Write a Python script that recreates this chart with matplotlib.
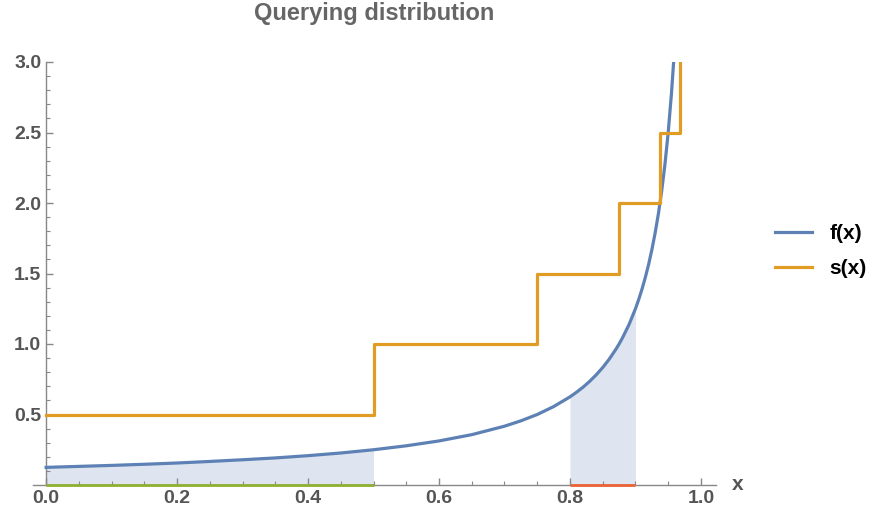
import matplotlib
matplotlib.use("Agg")
import matplotlib.pyplot as plt
import numpy as np
from matplotlib.ticker import MultipleLocator

# f(x)
f_x = [0.0, 0.05, 0.1, 0.15, 0.2, 0.25, 0.3, 0.35, 0.4, 0.45, 0.5, 0.55, 0.6, 0.65,
       0.7, 0.725, 0.75, 0.775, 0.8, 0.81, 0.82, 0.83, 0.84, 0.85, 0.86, 0.87,
       0.875, 0.88, 0.89, 0.9, 0.905, 0.91, 0.915, 0.92, 0.925, 0.93, 0.935,
       0.94, 0.945, 0.95, 0.955, 0.9583]
f_y = [0.125, 0.132, 0.139, 0.147, 0.156, 0.167, 0.179, 0.192, 0.208, 0.227, 0.25,
       0.278, 0.3125, 0.357, 0.417, 0.455, 0.5, 0.556, 0.625, 0.658, 0.694, 0.735,
       0.781, 0.833, 0.893, 0.962, 1.0, 1.042, 1.136, 1.25, 1.316, 1.389, 1.471,
       1.5625, 1.667, 1.786, 1.923, 2.083, 2.273, 2.5, 2.778, 3.0]

# s(x) step function: left edges and levels
s_x = [0.0, 0.5, 0.75, 0.875, 0.9375, 0.96875]
s_y = [0.5, 1.0, 1.5, 2.0, 2.5, 3.0]

# shaded ranges
ranges = [(0.0, 0.5), (0.8, 0.9)]
range_colors = ["#8FB032", "#EB6235"]

blue = "#5E81B5"
orange = "#E19C24"
gray = "#666666"

plt.rcParams['font.family'] = ['Liberation Sans', 'DejaVu Sans']

fig = plt.figure(figsize=(8.78, 5.21), dpi=100)
ax = fig.add_axes([33 / 878, 1 - 485 / 521, (716 - 33) / 878, (485 - 62) / 521])

fx = np.array(f_x)
fy = np.array(f_y)
for (a, b), c in zip(ranges, range_colors):
    m = (fx >= a - 1e-9) & (fx <= b + 1e-9)
    ax.fill_between(fx[m], 0, fy[m], color="#DFE5F0", lw=0, zorder=1)
    ax.plot([a, b], [0, 0], color=c, lw=2, zorder=4, clip_on=False, solid_capstyle='butt')

ax.plot(f_x, f_y, color=blue, lw=2.3, label="f(x)", zorder=3)
ax.step(s_x, s_y, where='post', color=orange, lw=2.3, label="s(x)", zorder=3)

ax.set_xlim(-0.02, 1.023)
ax.set_ylim(0, 3.0)

for s in ['top', 'right']:
    ax.spines[s].set_visible(False)
ax.spines['left'].set_position(('data', 0))
ax.spines['bottom'].set_position(('data', 0))
for s in ['left', 'bottom']:
    ax.spines[s].set_color("#888888")
    ax.spines[s].set_linewidth(1.0)

ax.xaxis.set_major_locator(MultipleLocator(0.2))
ax.xaxis.set_minor_locator(MultipleLocator(0.05))
ax.set_yticks([0.5, 1.0, 1.5, 2.0, 2.5, 3.0])
ax.yaxis.set_minor_locator(MultipleLocator(0.1))
ax.tick_params(which='both', direction='in', colors="#888888", labelcolor="#555555")
ax.tick_params(which='major', length=5, width=1)
ax.tick_params(which='minor', length=3, width=0.8)
ax.set_xticks([0.0, 0.2, 0.4, 0.6, 0.8, 1.0])
ax.set_xticklabels(["0.0", "0.2", "0.4", "0.6", "0.8", "1.0"])
for lab in ax.get_xticklabels() + ax.get_yticklabels():
    lab.set_fontsize(14)
    lab.set_fontweight('bold')

ax.text(1.031, 0, "x", transform=ax.get_yaxis_transform(), ha='center', va='center',
        fontsize=15, fontweight='bold', color="#555555")

ax.set_title("Querying distribution", fontsize=17, fontweight='bold', color=gray, pad=30)

fig.legend(loc='center left', bbox_to_anchor=(775 / 878, 1 - 251 / 521),
           bbox_transform=fig.transFigure, frameon=False, borderpad=0, borderaxespad=0,
           prop={'size': 15, 'weight': 'bold'}, handlelength=1.8, handletextpad=0.8,
           labelspacing=0.75)

fig.savefig("out.png", dpi=100)
